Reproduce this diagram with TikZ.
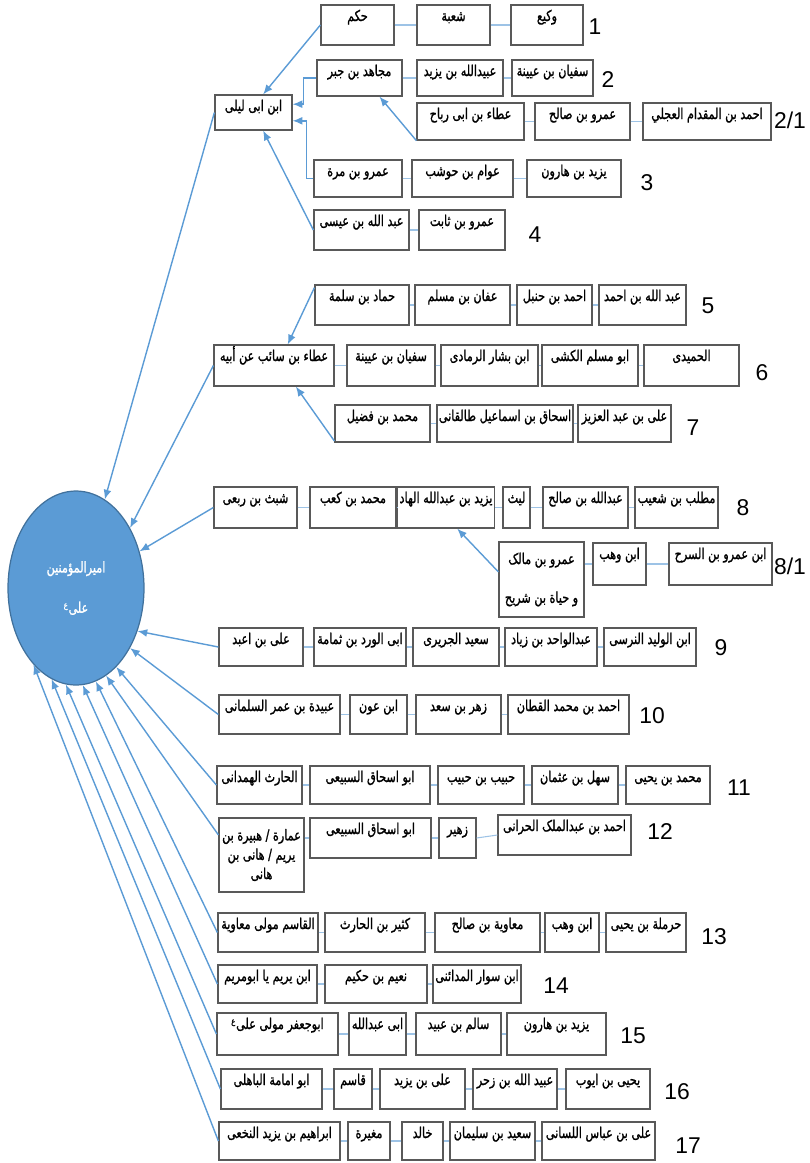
\documentclass[tikz,border=0pt]{standalone}
\usepackage{fontspec}
\setmainfont{Liberation Sans}
\newfontfamily\arabicfont[Script=Arabic,FakeStretch=0.75,FakeBold=1.2]{DejaVu Sans}
\TeXXeTstate=1
\usetikzlibrary{arrows.meta}
\usetikzlibrary{shapes.geometric}
\definecolor{arrowblue}{HTML}{5B9BD5}
\definecolor{linkblue}{HTML}{9DC3E6}
\definecolor{boxgray}{HTML}{595959}
\definecolor{circedge}{HTML}{41719C}
% box given by its pixel corners: name, x1, y1, x2, y2, text
\newcommand\namebox[6]{%
  \pgfmathsetmacro\bxw{(#4-#2)*0.02}%
  \pgfmathsetmacro\bxh{(#5-#3)*0.02}%
  \pgfmathsetmacro\bxd{(#5-#3-20)*0.02}%
  \node[namebox,minimum width=\bxw cm,minimum height=\bxh cm,text height=0.24cm,text depth=\bxd cm]
    (#1) at ({(#2+#4)/2},{(#3+#5)/2}) {#6};}

\begin{document}
\begin{tikzpicture}[x=0.02cm,y=-0.02cm,
  namebox/.style={draw=boxgray,line width=0.7pt,fill=white,inner xsep=1pt,inner ysep=0.08cm,
    font=\arabicfont\fontsize{8.5}{10}\selectfont},
  link/.style={linkblue,line width=0.6pt},
  feed/.style={arrowblue,line width=0.8pt,-{Latex[length=5.5pt,width=4.5pt]}},
  rownum/.style={font=\fontsize{13}{15}\selectfont},
  imam/.style={ellipse,fill=arrowblue,draw=circedge,line width=0.7pt,inner sep=0pt,
    text=white,align=center,font=\arabicfont\fontsize{8.5}{10}\selectfont}]

\useasboundingbox (0,0) rectangle (809,1163);

\node[imam,minimum width=2.72cm,minimum height=3.88cm] (ali) at (76,588)
  {\beginR امیرالمؤمنین\endR\\[13pt]\beginR علی\textsuperscript{\tiny ع}\endR};

\namebox{r1a}{321}{5}{394}{45}{\beginR حكم\endR}
\namebox{r1b}{417}{5}{490}{45}{\beginR شعبة\endR}
\namebox{r1c}{511}{5}{583}{45}{\beginR وكيع\endR}
\namebox{r2a}{317}{60}{402}{96}{\beginR مجاهد بن جبر\endR}
\namebox{r2b}{417}{60}{503}{96}{\beginR عبيدالله بن يزيد\endR}
\namebox{r2c}{512}{60}{593}{96}{\beginR سفيان بن عيينة\endR}
\namebox{ibnlayla}{215}{95}{292}{130}{\beginR ابن ابی لیلی\endR}
\namebox{r21a}{417}{103}{524}{140}{\beginR عطاء بن ابی رباح\endR}
\namebox{r21b}{535}{103}{630}{140}{\beginR عمرو بن صالح\endR}
\namebox{r21c}{643}{103}{771}{140}{\beginR احمد بن المقدام العجلي\endR}
\namebox{r3a}{314}{160}{402}{197}{\beginR عمرو بن مرة\endR}
\namebox{r3b}{412}{160}{513}{197}{\beginR عوام بن حوشب\endR}
\namebox{r3c}{527}{160}{621}{197}{\beginR يزيد بن هارون\endR}
\namebox{r4a}{314}{210}{409}{250}{\beginR عبد الله بن عيسی\endR}
\namebox{r4b}{419}{210}{505}{250}{\beginR عمرو بن ثابت\endR}

\namebox{r5a}{315}{285}{409}{325}{\beginR حماد بن سلمة\endR}
\namebox{r5b}{415}{285}{510}{325}{\beginR عفان بن مسلم\endR}
\namebox{r5c}{517}{285}{592}{325}{\beginR احمد بن حنبل\endR}
\namebox{r5d}{599}{285}{686}{325}{\beginR عبد الله بن احمد\endR}
\namebox{ataa}{214}{345}{334}{386}{\beginR عطاء بن سائب عن أبيه\endR}
\namebox{r6a}{347}{345}{435}{386}{\beginR سفيان بن عيينة\endR}
\namebox{r6b}{441}{345}{538}{386}{\beginR ابن بشار الرمادی\endR}
\namebox{r6c}{542}{345}{638}{386}{\beginR ابو مسلم الكشی\endR}
\namebox{r6d}{644}{345}{739}{386}{\beginR الحميدی\endR}
\namebox{r7a}{335}{405}{430}{442}{\beginR محمد بن فضيل\endR}
\namebox{r7b}{437}{405}{573}{442}{\beginR اسحاق بن اسماعيل طالقانی\endR}
\namebox{r7c}{578}{405}{671}{442}{\beginR علی بن عبد العزيز\endR}

\namebox{r8a}{214}{487}{297}{528}{\beginR شبث بن ربعی\endR}
\namebox{r8b}{310}{487}{396}{528}{\beginR محمد بن كعب\endR}
\namebox{r8c}{398}{487}{494}{528}{\beginR يزيد بن عبدالله الهاد\endR}
\namebox{r8d}{503}{487}{530}{528}{\beginR ليث\endR}
\namebox{r8e}{543}{487}{628}{528}{\beginR عبدالله بن صالح\endR}
\namebox{r8f}{635}{487}{718}{528}{\beginR مطلب بن شعيب\endR}
\node[namebox,align=center,minimum width=1.7cm,minimum height=1.5cm] (r81a) at (541.5,579.5)
  {\beginR عمرو بن مالک\endR\\[12pt]\beginR و حياة بن شريح\endR};
\namebox{r81b}{593}{543}{646}{585}{\beginR ابن وهب\endR}
\namebox{r81c}{669}{543}{772}{585}{\beginR ابن عمرو بن السرح\endR}

\namebox{r9a}{219}{628}{303}{666}{\beginR علی بن اعبد\endR}
\namebox{r9b}{314}{628}{406}{666}{\beginR ابی الورد بن ثمامة\endR}
\namebox{r9c}{413}{628}{499}{666}{\beginR سعيد الجريری\endR}
\namebox{r9d}{505}{628}{597}{666}{\beginR عبدالواحد بن زياد\endR}
\namebox{r9e}{604}{628}{696}{666}{\beginR ابن الوليد النرسی\endR}
\namebox{r10a}{219}{695}{340}{734}{\beginR عبيدة بن عمر السلمانی\endR}
\namebox{r10b}{350}{695}{407}{734}{\beginR ابن عون\endR}
\namebox{r10c}{416}{695}{501}{734}{\beginR زهر بن سعد\endR}
\namebox{r10d}{508}{695}{629}{734}{\beginR احمد بن محمد القطان\endR}
\namebox{r11a}{217}{766}{302}{804}{\beginR الحارث الهمدانی\endR}
\namebox{r11b}{310}{766}{430}{804}{\beginR ابو اسحاق السبيعی\endR}
\namebox{r11c}{438}{766}{524}{804}{\beginR حبيب بن حبيب\endR}
\namebox{r11d}{532}{766}{618}{804}{\beginR سهل بن عثمان\endR}
\namebox{r11e}{626}{766}{710}{804}{\beginR محمد بن يحيی\endR}
\node[namebox,align=center,minimum width=1.7cm,minimum height=1.48cm] (r12a) at (261.5,855)
  {\beginR عمارة / هبيرة بن\endR\\[1pt]\beginR يريم / هانی بن\endR\\[1pt]\beginR هانی\endR};
\namebox{r12b}{310}{818}{431}{858}{\beginR ابو اسحاق السبيعی\endR}
\namebox{r12c}{439}{818}{476}{858}{\beginR زهير\endR}
\namebox{r12d}{498}{815}{631}{855}{\beginR احمد بن عبدالملک الحرانی\endR}
\namebox{r13a}{218}{913}{318}{952}{\beginR القاسم مولی معاوية\endR}
\namebox{r13b}{325}{913}{425}{952}{\beginR كثير بن الحارث\endR}
\namebox{r13c}{435}{913}{540}{952}{\beginR معاوية بن صالح\endR}
\namebox{r13d}{545}{913}{599}{952}{\beginR ابن وهب\endR}
\namebox{r13e}{606}{913}{686}{952}{\beginR حرملة بن يحيی\endR}
\namebox{r14a}{218}{965}{317}{1003}{\beginR ابن يريم يا ابومريم\endR}
\namebox{r14b}{325}{965}{427}{1003}{\beginR نعيم بن حكيم\endR}
\namebox{r14c}{433}{965}{521}{1003}{\beginR ابن سوار المدائنی\endR}
\namebox{r15a}{217}{1013}{338}{1055}{\beginR ابوجعفر مولی علی\textsuperscript{\tiny ع}\endR}
\namebox{r15b}{349}{1013}{406}{1055}{\beginR ابی عبدالله\endR}
\namebox{r15c}{416}{1013}{501}{1055}{\beginR سالم بن عبيد\endR}
\namebox{r15d}{507}{1013}{606}{1055}{\beginR يزيد بن هارون\endR}
\namebox{r16a}{221}{1069}{322}{1109}{\beginR ابو امامة الباهلی\endR}
\namebox{r16b}{334}{1069}{372}{1109}{\beginR قاسم\endR}
\namebox{r16c}{380}{1069}{465}{1109}{\beginR علی بن يزيد\endR}
\namebox{r16d}{473}{1069}{557}{1109}{\beginR عبيد الله بن زحر\endR}
\namebox{r16e}{566}{1069}{650}{1109}{\beginR يحيی بن ايوب\endR}
\namebox{r17a}{219}{1122}{340}{1160}{\beginR ابراهيم بن يزيد النخعی\endR}
\namebox{r17b}{348}{1122}{390}{1160}{\beginR مغيرة\endR}
\namebox{r17c}{402}{1122}{443}{1160}{\beginR خالد\endR}
\namebox{r17d}{450}{1122}{535}{1160}{\beginR سعيد بن سليمان\endR}
\namebox{r17e}{542}{1122}{655}{1160}{\beginR علی بن عباس اللسانی\endR}

\node[rownum] (n1) at (595,27) {1};
\node[rownum] (n2) at (608,80) {2};
\node[rownum] (n21) at (790,120) {2/1};
\node[rownum] (n3) at (647,183) {3};
\node[rownum] (n4) at (535,235) {4};
\node[rownum] (n5) at (708,306) {5};
\node[rownum] (n6) at (762,373) {6};
\node[rownum] (n7) at (693,428) {7};
\node[rownum] (n8) at (743,508) {8};
\node[rownum] (n81) at (790,566) {8/1};
\node[rownum] (n9) at (721,648) {9};
\node[rownum] (n10) at (652,716) {10};
\node[rownum] (n11) at (739,788) {11};
\node[rownum] (n12) at (660,832) {12};
\node[rownum] (n13) at (714,937) {13};
\node[rownum] (n14) at (556,986) {14};
\node[rownum] (n15) at (633,1036) {15};
\node[rownum] (n16) at (677,1092) {16};
\node[rownum] (n17) at (688,1146) {17};

\foreach \a/\b in {r1a/r1b,r1b/r1c,r2a/r2b,r2b/r2c,r21a/r21b,r21b/r21c,r3a/r3b,r3b/r3c,r4a/r4b,
  r5a/r5b,r5b/r5c,r5c/r5d,ataa/r6a,r6a/r6b,r6b/r6c,r6c/r6d,r7a/r7b,r7b/r7c,
  r8a/r8b,r8b/r8c,r8c/r8d,r8d/r8e,r8e/r8f,r81b/r81c,
  r9a/r9b,r9b/r9c,r9c/r9d,r9d/r9e,r10a/r10b,r10b/r10c,r10c/r10d,
  r11a/r11b,r11b/r11c,r11c/r11d,r11d/r11e,r12b/r12c,r12c/r12d,
  r13a/r13b,r13b/r13c,r13c/r13d,r13d/r13e,r14a/r14b,r14b/r14c,
  r15a/r15b,r15b/r15c,r15c/r15d,r16a/r16b,r16b/r16c,r16c/r16d,r16d/r16e,
  r17a/r17b,r17b/r17c,r17c/r17d,r17d/r17e}
  \draw[link] (\a.east) -- (\b.west);
\draw[link] (r81a.east |- r81b.west) -- (r81b.west);
\draw[link] (r12a.east |- r12b.west) -- (r12b.west);

\draw[feed] (r1a.west) -- (ibnlayla.62);
\draw[feed] (r2a.west) -- ++(-13,0) |- (ibnlayla.12);
\draw[feed] (r3a.west) -- ++(-7,0) |- (ibnlayla.-12);
\draw[feed] (r21a.south west) -- (r2a.-43);
\draw[feed] (r4a.west) -- (ibnlayla.-62);
\draw[feed] (r5a.160) -- (ataa.57);
\draw[feed] (r7a.200) -- (ataa.-44);
\draw[feed] (r81a.170) -- (r8c.-62);

\draw[feed] (ibnlayla.west) -- (ali.72);
\draw[feed] (ataa.west) -- (ali.48);
\draw[feed] (r8a.west) -- (ali.30);
\draw[feed] (r9a.west) -- (ali.-35);
\draw[feed] (r10a.west) -- (ali.-48);
\draw[feed] (r11a.west) -- (ali.-63);
\draw[feed] (r12a.155) -- (ali.-71);
\draw[feed] (r13a.west) -- (ali.-78);
\draw[feed] (r14a.west) -- (ali.-86);
\draw[feed] (r15a.west) -- (ali.-96);
\draw[feed] (r16a.west) -- (ali.-105);
\draw[feed] (r17a.west) -- (ali.-119);

\end{tikzpicture}
\end{document}
